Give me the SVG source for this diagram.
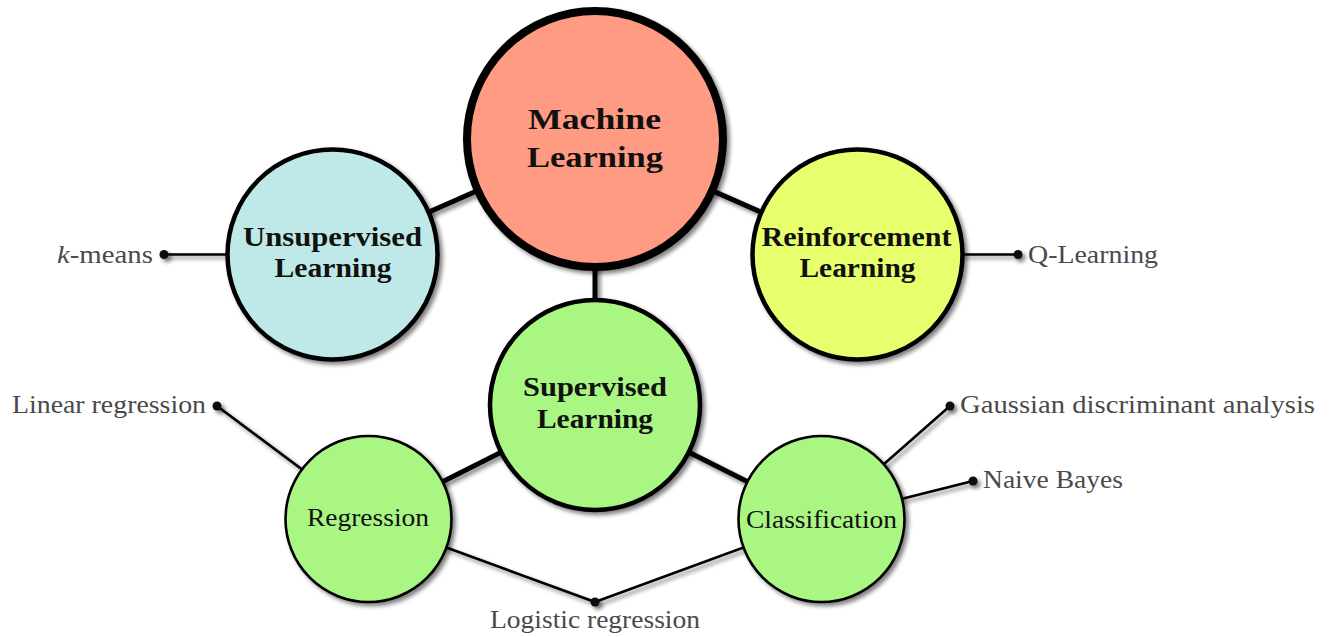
<svg xmlns="http://www.w3.org/2000/svg" width="1335" height="637" viewBox="0 0 1335 637">
<defs>
<filter id="sh" filterUnits="userSpaceOnUse" x="0" y="0" width="1335" height="637">
<feGaussianBlur in="SourceAlpha" stdDeviation="2"/>
<feOffset dx="3" dy="3" result="o"/>
<feComponentTransfer><feFuncA type="linear" slope="0.5"/></feComponentTransfer>
<feMerge><feMergeNode/><feMergeNode in="SourceGraphic"/></feMerge>
</filter>
<style>
.thick{stroke:#000;stroke-width:5;fill:none}
.thin{stroke:#000;stroke-width:2.6;fill:none}
.c1{stroke:#000;stroke-width:8}
.c2{stroke:#000;stroke-width:4.5}
.c3{stroke:#000;stroke-width:2.6}
.green{fill:#A9F682}
.bold{font-family:"Liberation Serif","Times New Roman",serif;font-weight:bold;fill:#111;text-anchor:middle}
.reg{font-family:"Liberation Serif","Times New Roman",serif;font-size:26px;fill:#111}
.leaf{font-family:"Liberation Serif","Times New Roman",serif;font-size:26px;fill:#4a4a4a}
.dot{fill:#111}
</style>
</defs>
<rect width="1335" height="637" fill="#fff"/>
<g id="connectors" filter="url(#sh)">
<line class="thick" x1="595" y1="139" x2="332.5" y2="254.5"/>
<line class="thick" x1="595" y1="139" x2="857.5" y2="254.5"/>
<line class="thick" x1="595" y1="139" x2="595" y2="405"/>
<line class="thick" x1="595" y1="405" x2="368.5" y2="519"/>
<line class="thick" x1="595" y1="405" x2="821.5" y2="519"/>
<line class="thin" x1="332.5" y1="254.5" x2="164" y2="254.5"/>
<line class="thin" x1="857.5" y1="254.5" x2="1018" y2="254.5"/>
<line class="thin" x1="368.5" y1="519" x2="217" y2="406"/>
<line class="thin" x1="368.5" y1="519" x2="595" y2="602"/>
<line class="thin" x1="821.5" y1="519" x2="595" y2="602"/>
<line class="thin" x1="821.5" y1="519" x2="950" y2="406"/>
<line class="thin" x1="821.5" y1="519" x2="973" y2="481"/>
</g>
<g id="machine-learning">
<circle cx="595" cy="139" r="128" fill="#FF9B83" class="c1" filter="url(#sh)"/>
<text class="bold" font-size="30" x="594.5" y="129" textLength="133" lengthAdjust="spacingAndGlyphs">Machine</text>
<text class="bold" font-size="30" x="595" y="167" textLength="136" lengthAdjust="spacingAndGlyphs">Learning</text>
</g>
<g id="unsupervised">
<circle cx="332.5" cy="254.5" r="105" fill="#BFE9E8" class="c2" filter="url(#sh)"/>
<text class="bold" font-size="26.5" x="332.5" y="246" textLength="179" lengthAdjust="spacingAndGlyphs">Unsupervised</text>
<text class="bold" font-size="26.5" x="333" y="277" textLength="117" lengthAdjust="spacingAndGlyphs">Learning</text>
</g>
<g id="reinforcement">
<circle cx="857.5" cy="254.5" r="105" fill="#E7FF6D" class="c2" filter="url(#sh)"/>
<text class="bold" font-size="26.5" x="856.5" y="246" textLength="190" lengthAdjust="spacingAndGlyphs">Reinforcement</text>
<text class="bold" font-size="26.5" x="857.5" y="277" textLength="116" lengthAdjust="spacingAndGlyphs">Learning</text>
</g>
<g id="supervised">
<circle cx="595" cy="405" r="105" class="green c2" filter="url(#sh)"/>
<text class="bold" font-size="26.5" x="595" y="396" textLength="144" lengthAdjust="spacingAndGlyphs">Supervised</text>
<text class="bold" font-size="26.5" x="595" y="428" textLength="116" lengthAdjust="spacingAndGlyphs">Learning</text>
</g>
<g id="regression">
<circle cx="368.5" cy="519" r="83" class="green c3" filter="url(#sh)"/>
<text class="reg" x="368" y="526" text-anchor="middle" textLength="122" lengthAdjust="spacingAndGlyphs">Regression</text>
</g>
<g id="classification">
<circle cx="821.5" cy="519" r="83" class="green c3" filter="url(#sh)"/>
<text class="reg" x="821.5" y="528" text-anchor="middle" textLength="151" lengthAdjust="spacingAndGlyphs">Classification</text>
</g>
<g id="k-means">
<circle class="dot" cx="164" cy="254.5" r="4.5" filter="url(#sh)"/>
<text class="leaf" x="153" y="263" text-anchor="end" textLength="96" lengthAdjust="spacingAndGlyphs"><tspan font-style="italic">k</tspan>-means</text>
</g>
<g id="q-learning">
<circle class="dot" cx="1018" cy="254.5" r="4.5" filter="url(#sh)"/>
<text class="leaf" x="1028" y="263" textLength="130" lengthAdjust="spacingAndGlyphs">Q-Learning</text>
</g>
<g id="linear-regression">
<circle class="dot" cx="217" cy="406" r="4.5" filter="url(#sh)"/>
<text class="leaf" x="206" y="413" text-anchor="end" textLength="194" lengthAdjust="spacingAndGlyphs">Linear regression</text>
</g>
<g id="logistic-regression">
<circle class="dot" cx="595" cy="602" r="4.5" filter="url(#sh)"/>
<text class="leaf" x="595" y="628" text-anchor="middle" textLength="210" lengthAdjust="spacingAndGlyphs">Logistic regression</text>
</g>
<g id="gaussian-discriminant-analysis">
<circle class="dot" cx="950" cy="406" r="4.5" filter="url(#sh)"/>
<text class="leaf" x="960" y="413" textLength="355" lengthAdjust="spacingAndGlyphs">Gaussian discriminant analysis</text>
</g>
<g id="naive-bayes">
<circle class="dot" cx="973" cy="481" r="4.5" filter="url(#sh)"/>
<text class="leaf" x="983" y="488" textLength="140" lengthAdjust="spacingAndGlyphs">Naive Bayes</text>
</g>
</svg>
